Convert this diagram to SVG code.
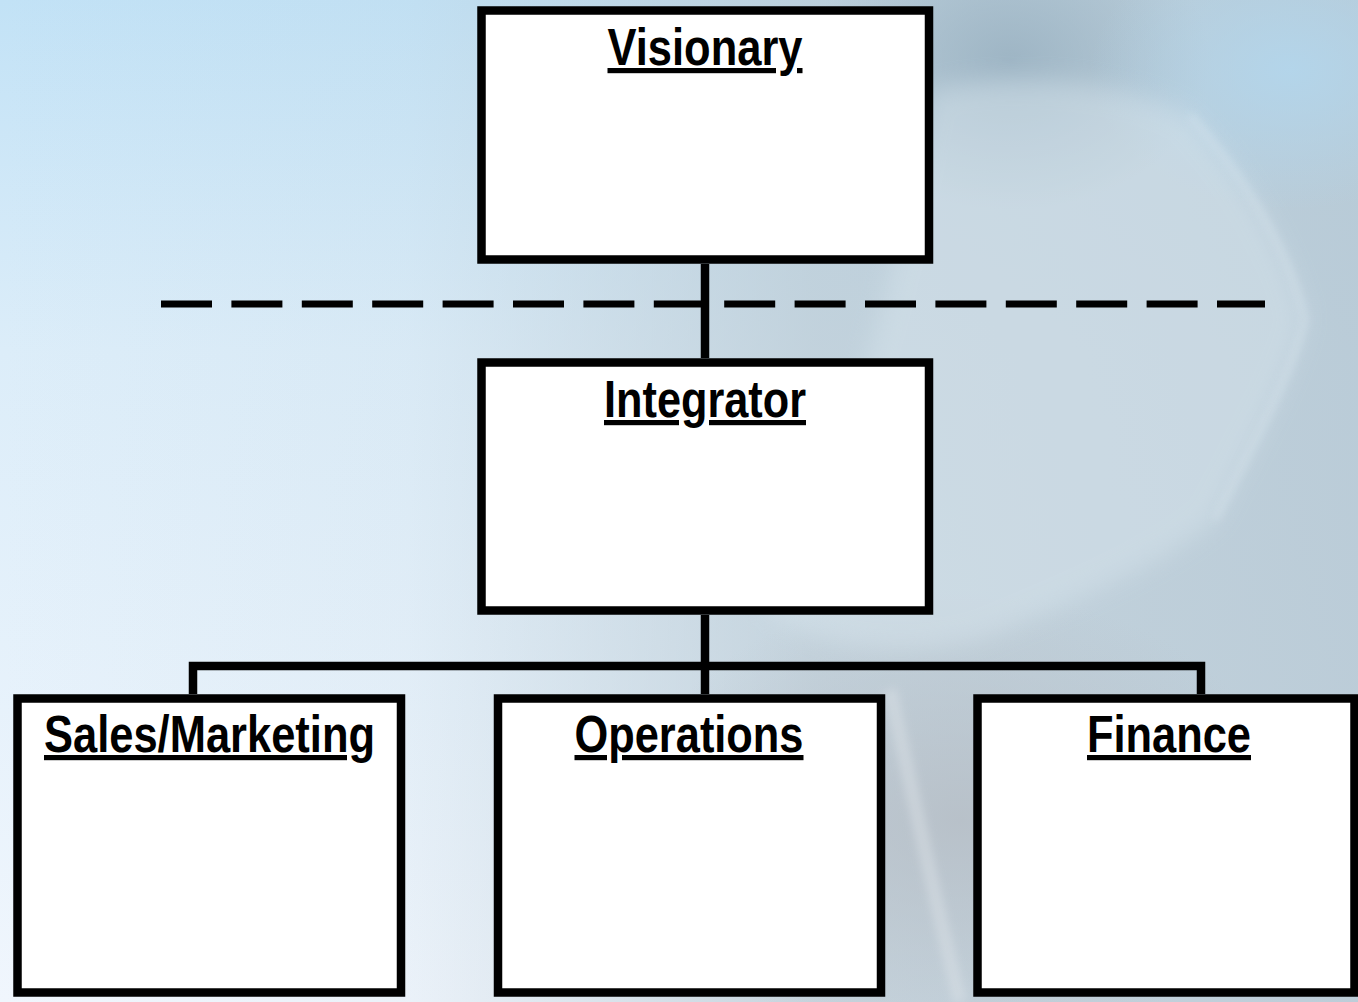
<svg xmlns="http://www.w3.org/2000/svg" width="1358" height="1002" viewBox="0 0 1358 1002">
  <defs>
    <linearGradient id="bgV" x1="0" y1="0" x2="0" y2="1">
      <stop offset="0" stop-color="#c2e2f6"/>
      <stop offset="0.35" stop-color="#dcedf9"/>
      <stop offset="1" stop-color="#f0f6fd"/>
    </linearGradient>
    <linearGradient id="bgH" x1="0" y1="0" x2="1" y2="0">
      <stop offset="0" stop-color="#b9c9d3" stop-opacity="0"/>
      <stop offset="0.3" stop-color="#b9c9d3" stop-opacity="0.1"/>
      <stop offset="0.6" stop-color="#b9c9d3" stop-opacity="0.75"/>
      <stop offset="1" stop-color="#b4c6d2" stop-opacity="0.85"/>
    </linearGradient>
    <radialGradient id="topDark" cx="0.5" cy="0.5" r="0.5">
      <stop offset="0" stop-color="#97afbf" stop-opacity="0.8"/>
      <stop offset="1" stop-color="#97afbf" stop-opacity="0"/>
    </radialGradient>
    <radialGradient id="topRightBlue" cx="0.5" cy="0.5" r="0.5">
      <stop offset="0" stop-color="#b3d6ec" stop-opacity="0.9"/>
      <stop offset="1" stop-color="#b3d6ec" stop-opacity="0"/>
    </radialGradient>
    <radialGradient id="grayLow" cx="0.5" cy="0.5" r="0.5">
      <stop offset="0" stop-color="#b6bec6" stop-opacity="0.85"/>
      <stop offset="1" stop-color="#b6bec6" stop-opacity="0"/>
    </radialGradient>
    <filter id="blur12" x="-20%" y="-20%" width="140%" height="140%">
      <feGaussianBlur stdDeviation="12"/>
    </filter>
    <filter id="blur4" x="-20%" y="-20%" width="140%" height="140%">
      <feGaussianBlur stdDeviation="4"/>
    </filter>
    <style>
      .box { fill: #ffffff; stroke: #000000; stroke-width: 8.5; }
      .conn { fill: none; stroke: #000000; stroke-width: 8.5; stroke-linejoin: miter; stroke-linecap: butt; }
      .dash { fill: none; stroke: #000000; stroke-width: 7; stroke-dasharray: 51 19.4; }
      .label { font-family: 'Liberation Sans Narrow', 'Arial Narrow', 'Liberation Sans', Arial, sans-serif; font-weight: bold; font-size: 52px; text-anchor: middle; text-decoration: underline; fill: #000000; }
    </style>
  </defs>

  <g id="background">
    <rect x="0" y="0" width="1358" height="1002" fill="url(#bgV)"/>
    <rect x="0" y="0" width="1358" height="1002" fill="url(#bgH)"/>
    <ellipse cx="1010" cy="60" rx="200" ry="150" fill="url(#topDark)"/>
    <ellipse cx="1290" cy="70" rx="200" ry="140" fill="url(#topRightBlue)"/>
    <ellipse cx="960" cy="820" rx="330" ry="230" fill="url(#grayLow)"/>
    <path d="M930,90 C1020,70 1120,80 1190,115 C1240,170 1290,250 1305,320 C1290,380 1250,450 1215,520 C1170,560 1080,600 980,640 C900,660 820,650 760,610 C820,520 880,360 930,90 Z" fill="#d9e6ee" opacity="0.45" filter="url(#blur12)"/>
    <path d="M1190,115 C1240,170 1290,250 1305,320 C1290,380 1250,450 1215,520" fill="none" stroke="#e2edf4" stroke-width="4" opacity="0.5" filter="url(#blur4)"/>
    <path d="M890,690 C910,780 930,880 960,1002" fill="none" stroke="#dde3e8" stroke-width="14" opacity="0.45" filter="url(#blur4)"/>
  </g>

  <g id="divider">
    <line class="dash" x1="161" y1="304" x2="1265" y2="304"/>
  </g>

  <g id="connectors">
    <path class="conn" d="M705,264 V358"/>
    <path class="conn" d="M705,615 V694"/>
    <path class="conn" d="M193,694 V666 H1201 V694"/>
  </g>

  <g id="node-visionary">
    <rect class="box" x="481.5" y="10.5" width="447.5" height="249"/>
    <text class="label" x="705" y="65" textLength="195" lengthAdjust="spacingAndGlyphs">Visionary</text>
  </g>

  <g id="node-integrator">
    <rect class="box" x="481.5" y="362.5" width="447.5" height="248"/>
    <text class="label" x="705" y="417" textLength="202" lengthAdjust="spacingAndGlyphs">Integrator</text>
  </g>

  <g id="node-sales">
    <rect class="box" x="17.5" y="698.5" width="383.5" height="294"/>
    <text class="label" x="209.5" y="752" textLength="331" lengthAdjust="spacingAndGlyphs">Sales/Marketing</text>
  </g>

  <g id="node-operations">
    <rect class="box" x="498" y="698.5" width="383" height="294"/>
    <text class="label" x="689" y="752" textLength="229" lengthAdjust="spacingAndGlyphs">Operations</text>
  </g>

  <g id="node-finance">
    <rect class="box" x="977.5" y="698.5" width="377" height="294"/>
    <text class="label" x="1169" y="752" textLength="164" lengthAdjust="spacingAndGlyphs">Finance</text>
  </g>
</svg>
